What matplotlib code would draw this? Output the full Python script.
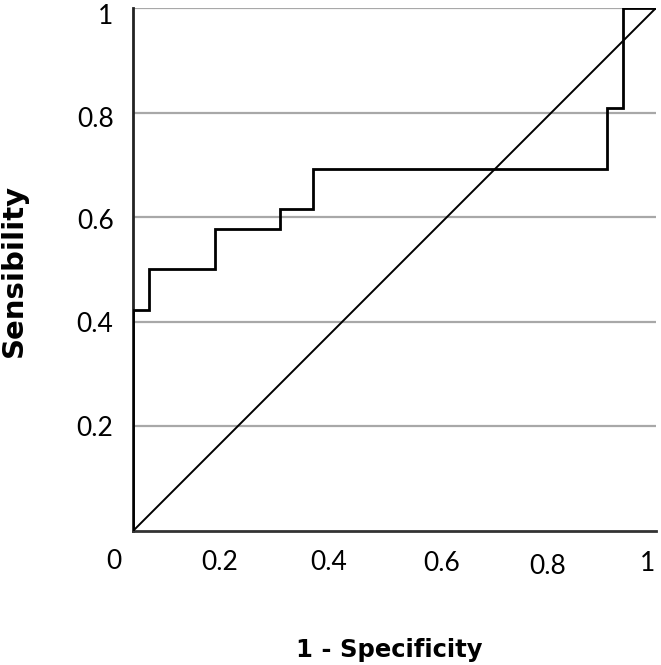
import matplotlib
matplotlib.use("Agg")
import matplotlib.pyplot as plt
import matplotlib.transforms as mtransforms

# ROC step curve (1 - specificity, sensitivity)
fpr = [0.0, 0.0, 0.03125, 0.03125, 0.15625, 0.15625, 0.28125, 0.28125,
       0.34375, 0.34375, 0.90625, 0.90625, 0.9375, 0.9375, 1.0]
tpr = [0.0, 0.423, 0.423, 0.5, 0.5, 0.577, 0.577, 0.615,
       0.615, 0.692, 0.692, 0.808, 0.808, 1.0, 1.0]

# reference diagonal
diag_x = [0.0, 1.0]
diag_y = [0.0, 1.0]

y_ticks = [0.2, 0.4, 0.6, 0.8, 1.0]
y_tick_labels = ["0.2", "0.4", "0.6", "0.8", "1"]
x_tick_labels = ["0", "0.2", "0.4", "0.6", "0.8", "1"]
# where the x labels sit in the original (axes fraction), they are not on the grid values
x_label_pos = [-0.036, 0.166, 0.375, 0.590, 0.792, 0.983]
x_label_y = [-0.058, -0.061, -0.061, -0.062, -0.068, -0.062]
# small downward nudge (points) of the y labels, as in the original
y_label_shift = [0, 0, 1, 3.5, 4]

fig = plt.figure(figsize=(6.61, 6.65), dpi=100)
ax = fig.add_axes([0.2012, 0.2015, 0.7912, 0.7865])

for yt in y_ticks:
    ax.axhline(yt, color="#a8a8a8", lw=1.6, zorder=1)

ax.plot(diag_x, diag_y, color="black", lw=1.4, zorder=2)
ax.plot(fpr, tpr, color="black", lw=2.0, zorder=3, solid_joinstyle="miter")

ax.set_xlim(0, 1)
ax.set_ylim(0, 1)
for s in ["top", "right"]:
    ax.spines[s].set_visible(False)
ax.spines["left"].set_color("#222222")
ax.spines["left"].set_linewidth(2.0)
ax.spines["bottom"].set_color("#333333")
ax.spines["bottom"].set_linewidth(2.0)

ax.set_xticks([])
ax.set_yticks(y_ticks)
ax.set_yticklabels(y_tick_labels, fontsize=19, family="Lato")
ax.tick_params(axis="y", length=0, pad=14)
for lbl, dy in zip(ax.get_yticklabels(), y_label_shift):
    off = mtransforms.ScaledTranslation(0, -dy / 72, fig.dpi_scale_trans)
    lbl.set_transform(lbl.get_transform() + off)

for lab, xp, yp in zip(x_tick_labels, x_label_pos, x_label_y):
    ax.text(xp, yp, lab, transform=ax.transAxes, ha="center", va="center",
            fontsize=19, family="Lato")

fig.text(389 / 661, 1 - 650 / 665, "1 - Specificity", ha="center", va="center",
         fontsize=17.5, fontweight="bold", family="DejaVu Sans")
fig.text(14 / 661, 1 - 270 / 665, "Sensibility", ha="center", va="center",
         rotation=90, fontsize=21, fontweight="bold", family="DejaVu Sans")

fig.savefig("out.png", dpi=100)
